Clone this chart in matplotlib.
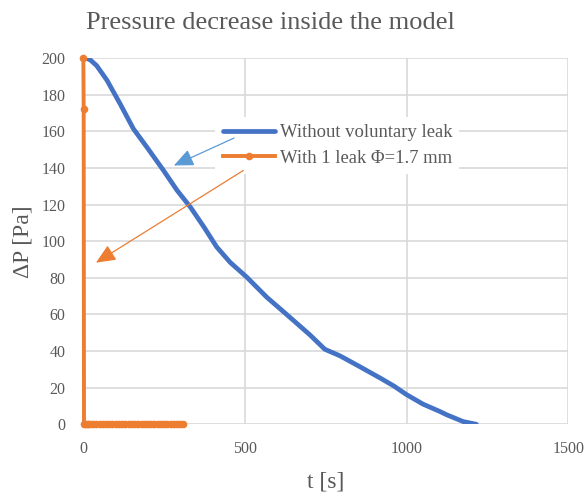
#%% Pressure decrease inside the model - leak test curves
import matplotlib.pyplot as plt

#%% Data
t_no_leak = [5, 10, 22, 41, 73, 114, 155, 197, 248, 290, 331, 373, 412, 454, 505, 536, 567,
             629, 700, 747, 794, 850, 917, 960, 1000, 1051, 1103, 1124, 1175, 1216]
p_no_leak = [200, 200, 199, 196, 188, 175, 161.4, 151.3, 138.7, 127.8, 118.7, 107.8, 97, 88.5, 80.5, 75, 69.5,
             60, 49, 41, 37.4, 32, 25.4, 21, 16.2, 11, 7, 5.2, 1.5, 0]

t_leak = [0, 1, 2, 5, 10, 15, 20, 30, 40, 50, 60, 70, 80, 90, 100, 110, 120, 130, 140, 150,
          160, 170, 180, 190, 200, 210, 220, 230, 240, 250, 260, 270, 280, 290, 300, 309]
p_leak = [200, 172, 0, 0, 0, 0, 0, 0, 0, 0, 0, 0, 0, 0, 0, 0, 0, 0, 0, 0,
          0, 0, 0, 0, 0, 0, 0, 0, 0, 0, 0, 0, 0, 0, 0, 0]

label_no_leak = 'Without voluntary leak'
label_leak = 'With 1 leak \u03a6=1.7 mm'

x_ticks = [0, 500, 1000, 1500]
y_ticks = [0, 20, 40, 60, 80, 100, 120, 140, 160, 180, 200]

#%% Style
blue = '#4472C4'
orange = '#ED7D31'
grey_txt = '#595959'
grid_col = '#D9D9D9'
plt.rcParams['font.family'] = ['Liberation Serif', 'DejaVu Serif']

fig = plt.figure(figsize=(5.87, 4.92), dpi=100)
ax = fig.add_axes([0.142, 0.1376, 0.826, 0.744])

ax.plot(t_no_leak, p_no_leak, color=blue, lw=3.4, solid_capstyle='round', label=label_no_leak, zorder=3)
ax.plot(t_leak, p_leak, color=orange, lw=2.8, marker='o', ms=5.5, mew=0, label=label_leak,
        zorder=4, clip_on=False)

ax.set_xlim(0, 1500)
ax.set_ylim(0, 200)
ax.set_xticks(x_ticks)
ax.set_yticks(y_ticks)
ax.grid(True, color=grid_col, lw=1.2)
ax.set_axisbelow(True)
for s in ax.spines.values():
    s.set_visible(False)
ax.tick_params(length=0, labelsize=11.5, labelcolor=grey_txt)
ax.tick_params(axis='x', pad=12)
ax.tick_params(axis='y', pad=13)

ax.set_xlabel('t [s]', fontsize=17, color=grey_txt)
ax.set_ylabel('\u0394P [Pa]', fontsize=17, color=grey_txt)
ax.xaxis.set_label_coords(0.5, -0.13)
ax.yaxis.set_label_coords(-0.102, 0.5)
fig.suptitle('Pressure decrease inside the model', fontsize=19, color=grey_txt, x=0.46, y=0.976)

leg = ax.legend(loc='upper left', bbox_to_anchor=(0.253, 0.865), fontsize=13.4, frameon=True,
                facecolor='white', edgecolor='none', framealpha=1, fancybox=False,
                handlelength=2.8, labelspacing=0.45, borderpad=0.4, handletextpad=0.25)
for txt in leg.get_texts():
    txt.set_color(grey_txt)

#%% Arrows pointing from the legend to the curves
ax.annotate('', xy=(280, 141.4), xytext=(466, 156.4),
            arrowprops=dict(arrowstyle='-|>,head_length=0.8,head_width=0.35', color='#5B9BD5',
                            lw=0.9, mutation_scale=15, shrinkA=0, shrinkB=0), zorder=6)
ax.annotate('', xy=(39, 88.3), xytext=(495, 138.7),
            arrowprops=dict(arrowstyle='-|>,head_length=0.8,head_width=0.35', color=orange,
                            lw=0.9, mutation_scale=15, shrinkA=0, shrinkB=0), zorder=6)

fig.savefig('out.png', dpi=100)
plt.close()
